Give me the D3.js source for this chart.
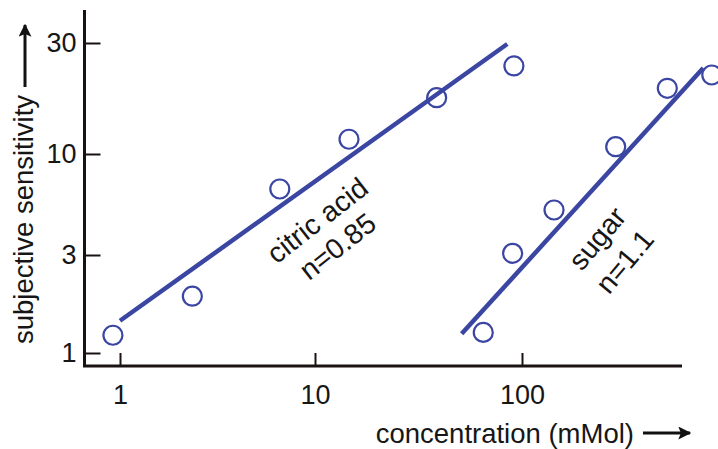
<!DOCTYPE html>
<html>
<head>
<meta charset="utf-8">
<script src="https://cdn.jsdelivr.net/npm/d3@7"></script>
<style>
  html, body { margin: 0; padding: 0; background: #fff; }
  text { font-family: "Liberation Sans", Arial, Helvetica, sans-serif; fill: #161616; }
</style>
</head>
<body>
<svg id="chart" width="718" height="449"></svg>
<script>
// ---- data ----
const xTicks = [1, 10, 100];
const yTicks = [1, 3, 10, 30];

const citricConc = [0.92, 2.35, 6.6, 14.6, 38.7, 91.4];
const citricSens = [1.22, 1.89, 6.59, 11.57, 17.46, 23.9];
const citricFitConc = [1.0, 84.9];
const citricFitSens = [1.436, 29.7];

const sugarConc = [65, 90.1, 142.8, 283.6, 503.6, 826];
const sugarSens = [1.26, 3.06, 5.13, 10.75, 19.16, 21.86];
const sugarFitConc = [51.1, 751];
const sugarFitSens = [1.24, 23.4];

const labels = [
  { lines: ["citric acid", "n=0.85"], conc: 11.47, sens: 3.89, angle: -38, gap: 33 },
  { lines: ["sugar", "n=1.1"], conc: 268.5, sens: 3.19, angle: -50, gap: 36 }
];

const xTitle = "concentration (mMol)";
const yTitle = "subjective sensitivity";

// ---- drawing ----
const blue = "#3a46a2";
const ink = "#1a1212";
const svg = d3.select("#chart");
svg.append("rect").attr("width", 718).attr("height", 449).attr("fill", "#fff");

// hand-drawn log axes: piecewise log scales matching the printed tick spacing
const x = d3.scaleLog().domain([1, 10, 100]).range([120, 315, 522]);
const y = d3.scaleLog().domain([1, 3, 10, 30]).range([353, 255, 154, 43]);

const axisX0 = 84.5, axisY0 = 366;

// axes
const xAxis = d3.axisBottom(x).tickValues(xTicks).tickFormat(d3.format("d"))
  .tickSizeInner(-13).tickSizeOuter(0).tickPadding(19);
const gx = svg.append("g").attr("transform", `translate(0,${axisY0})`).call(xAxis);
gx.select(".domain").remove();
gx.selectAll(".tick line").attr("stroke", ink).attr("stroke-width", 2);
gx.selectAll(".tick text").attr("font-size", 27).attr("fill", ink)
  .style("font-family", '"Liberation Sans", Arial, sans-serif');

const yAxis = d3.axisLeft(y).tickValues(yTicks).tickFormat(d3.format("d"))
  .tickSizeInner(-16).tickSizeOuter(0).tickPadding(8);
const gy = svg.append("g").attr("transform", `translate(${axisX0},0)`).call(yAxis);
gy.select(".domain").remove();
gy.selectAll(".tick line").attr("stroke", ink).attr("stroke-width", 2);
gy.selectAll(".tick text").attr("font-size", 27).attr("fill", ink)
  .style("font-family", '"Liberation Sans", Arial, sans-serif');

// axis lines
svg.append("path")
  .attr("d", `M${axisX0},10 V${axisY0} H682`)
  .attr("fill", "none").attr("stroke", ink).attr("stroke-width", 3);

// fitted lines
const line = d3.line().x(d => x(d[0])).y(d => y(d[1]));
svg.append("path").datum(d3.zip(citricFitConc, citricFitSens))
  .attr("d", line).attr("fill", "none").attr("stroke", blue).attr("stroke-width", 4.5);
svg.append("path").datum(d3.zip(sugarFitConc, sugarFitSens))
  .attr("d", line).attr("fill", "none").attr("stroke", blue).attr("stroke-width", 4.5);

// points
function points(cs, ss) {
  svg.append("g").selectAll("circle").data(d3.zip(cs, ss)).join("circle")
    .attr("cx", d => x(d[0])).attr("cy", d => y(d[1])).attr("r", 9.5)
    .attr("fill", "none").attr("stroke", blue).attr("stroke-width", 2.2);
}
points(citricConc, citricSens);
points(sugarConc, sugarSens);

// series labels
labels.forEach(l => {
  const g = svg.append("g")
    .attr("transform", `translate(${x(l.conc)},${y(l.sens)}) rotate(${l.angle})`);
  l.lines.forEach((t, i) => {
    g.append("text").attr("text-anchor", "middle")
      .attr("y", (i - 0.5) * l.gap + 10)
      .attr("font-size", 28.5).text(t);
  });
});

// axis titles with arrows
const defs = svg.append("defs");
defs.append("marker").attr("id", "arr").attr("viewBox", "0 0 10 10")
  .attr("refX", 9).attr("refY", 5).attr("markerWidth", 17).attr("markerHeight", 13)
  .attr("markerUnits", "userSpaceOnUse").attr("orient", "auto")
  .append("path").attr("d", "M0,0 L10,5 L0,10 L2,5 Z").attr("fill", "#111");

svg.append("text").attr("x", 634).attr("y", 443).attr("text-anchor", "end")
  .attr("font-size", 27.5).text(xTitle);
svg.append("line").attr("x1", 643).attr("y1", 433).attr("x2", 690).attr("y2", 433)
  .attr("stroke", "#111").attr("stroke-width", 3).attr("marker-end", "url(#arr)");

svg.append("text").attr("transform", "translate(33,344) rotate(-90)")
  .attr("text-anchor", "start").attr("font-size", 27.5).text(yTitle);
svg.append("line").attr("x1", 25).attr("y1", 87).attr("x2", 25).attr("y2", 25)
  .attr("stroke", "#111").attr("stroke-width", 3).attr("marker-end", "url(#arr)");
</script>
</body>
</html>
